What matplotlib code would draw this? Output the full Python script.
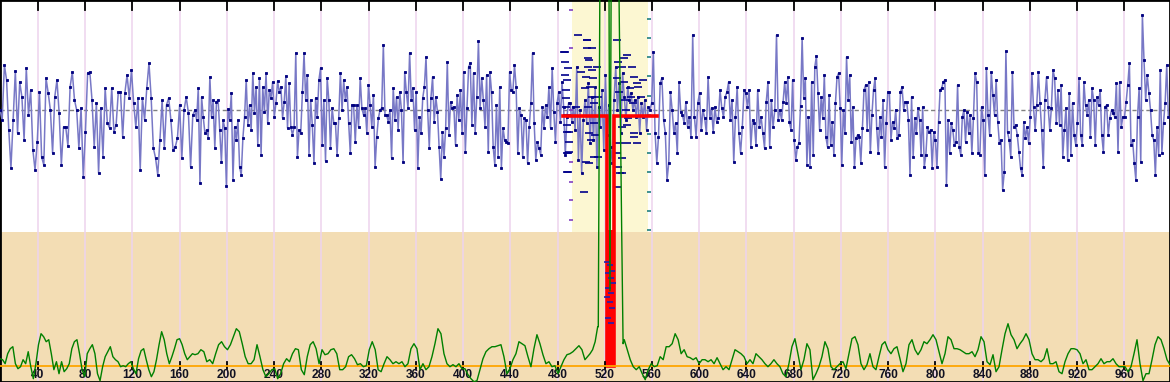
import numpy as np
import matplotlib.pyplot as plt
from matplotlib.transforms import blended_transform_factory

# x range of each strip the series were read from
seg_edges = [7.9, 173.0, 338.1, 503.2, 668.3, 833.5, 998.6]

# blue signal, offset from its mean line (one list per strip)
blue_1 = [0,-10,45,30,-20,-58,-10,39,-23,28,13,-30,42,-5,20,-40,-60,-32,18,-47,-55,32,17,0,-43,13,30,-3,-55,-17,
          -17,-36,23,38,10,0,-38,2,-67,-22,37,38,10,-37,7,-63,2,-47,22,-13,-18,22,-22,-15,18,18,-27,17,35,12,
          40,7,-17,12,-60,12,-10,22,47,12,-38,-48,-65,-30,10,-38,5,12,-10,-40,-37,-28,5,-48,0,13,-3,-57,-5]
blue_2 = [0,-10,22,-73,13,-7,-23,-20,-28,33,-7,10,-38,8,10,-20,-52,-10,-18,-76,1,-10,17,-70,-17,-30,-10,-57,-65,-28,
          -7,30,-15,5,-20,37,-3,23,-35,32,-45,23,-2,37,-13,20,12,28,-7,7,29,18,23,-8,8,34,-18,27,-17,-25,
          -17,57,-47,-20,-23,18,57,10,35,-45,10,-15,-53,12,-7,30,42,-35,10,-51,32,10,-38,2,-13,-13,-45,-8,37,0,
          30,10,23,-13,-43,5,5,-32,5,-17,32,2,-5,2,-23,25,5,-17,15,-57,-27,-8,0,2,65,-5,-5,-12]
blue_3 = [0,-48,22,-10,13,-20,18,0,-52,38,18,2,57,10,22,-20,18,-58,-7,-23,12,23,53,0,-38,12,33,-12,13,-2,
          -37,-69,-22,-47,-18,48,-25,8,2,3,-35,15,-10,20,-23,38,-42,2,43,47,-15,37,-23,13,69,2,32,10,-17,35,
          -42,38,18,-37,-55,5,-47,23,-58,-18,-30,-32,-33,38,20,18,45,23,-43,2,-5,-47,-8,-10,-53,-17,7,57,-13,-50,
          -32,-38,-45,3,-18,5,-7,23,-18,42,-2,-32,7,18,-12,28,3,-45,-7,7,7,-12,3,-20,43,-50,0,-63,-10]
blue_4 = [10,-13,27,-33,13,-30,23,-57,3,-17,20,-40,35,-25,5,-37,-53,10,43,0,27,-23,37,13,-10,23,10,17,0,10,
          -7,13,-23,7,-7,10,-20,3,0,7,58,-23,-53,-27,27,32,-10,-23,-70,-53,18,0,-23,-13,-43,28,-2,-5,-13,8,
          -17,-7,-27,75,-7,-27,7,17,-20,0,-8,-23,33,-8,2,-22,3,-12,-8,20,2,-7,13,18,28,-10,10,-52,-7,23,
          -23,-43,-17,20,17,3,20,-37,-10,-13,-35,20,-17,-7,-23,-38,8,28,-37,10,-17,0,75,-10]
blue_5 = [0,-10,8,28,7,33,-12,-20,30,-30,-50,-37,-33,4,72,12,32,-55,-7,-57,28,-45,43,54,17,-20,13,-8,35,-27,
          -37,15,-35,-12,-45,7,33,37,2,-55,0,-23,53,10,35,-32,3,-57,-28,-25,-27,-53,-18,20,25,-20,28,-42,-5,20,
          32,-18,-43,-7,-27,10,-57,-13,18,18,-30,-12,-18,0,-28,-25,18,23,0,8,8,-10,-65,13,-47,-8,-23,2,-10,-45,
          3,-57,-45,-17,-22,-20,-58,-22,-30,-57,-12,20,22,28,30,-75,-10,-43,-13,-20,-35,-32,25,-37,-45,-7,0,-32,
          -2,-23,-5,-43,-8]
blue_6 = [37,28,-43,-45,3,-10,-65,42,-5,-25,38,15,-5,30,-12,-33,-30,-80,-62,59,-22,-30,-47,38,-17,-15,-25,-42,-58,-65,
          -12,-28,-17,-33,-7,37,3,-20,5,38,7,-20,-57,10,33,3,-20,2,40,32,-13,20,-15,25,-47,-20,2,-50,17,-45,
          7,-25,-35,-13,32,-25,-35,28,5,-5,10,-27,22,10,-35,13,5,20,-25,-42,3,5,-25,-8,0,-3,-7,27,-42,28,
          -17,-7,-7,8,25,47,-35,-30,-53,-70,-7,22,-52,95,50,10,35,17,0,-25,-30,-65,-17,-45,40,-43,-13,7,45,-7]

# green curve, height above the orange base line
green_1 = [7,6,2,12,17,19,2,-3,-1,6,2,14,-1,-13,2,21,32,29,24,26,12,-4,4,-8,4,-6,-3,2,17,24,
           26,12,-4,-11,12,17,21,12,-8,-15,-1,9,14,19,9,6,4,-1,0,-1,2,4,-3,-8,7,15,17,6,-4,-11,
           -6,6,21,34,26,12,2,9,17,26,27,21,12,6,9,12]
green_2 = [11,12,16,14,4,6,2,12,21,24,19,16,21,29,37,34,22,9,2,2,6,21,9,-4,-11,-8,-4,-3,-13,-8,
           2,7,4,12,17,16,-4,-9,9,21,24,17,2,16,11,12,16,17,12,-4,-4,-1,9,11,7,1,2,-1,0,16,
           24,16,-4,-6,2,9]
green_3 = [6,2,4,2,4,-1,2,17,22,17,-4,2,-4,-1,9,22,37,32,12,2,-1,1,-1,2,-3,-3,-9,-13,-16,-15,
           -4,7,14,17,19,19,20,21,9,-8,-3,6,12,24,22,20,9,-1,17,31,22,11,2,4,-1,0,-8,-1,6,11,
           12,14,17,20,16]
green_4a = [6,9,12,16,24,39]
spike_x = [514.5,516,518,521,523.5,524.4,525.5,528,531,534.3,535.5]
spike_v = [39,420,480,480,400,75,420,480,480,136,22]
green_4b = [26,16,6,-1,-4,-1,-8,-14,-4,2,-1,0,9,6,19,19,22,32,26,12,16,9,8,6,8,2,6,6,4,6,
            2,8,2,-4,-1,-4,6,16,14,12,9,2,6,2,12,9,6,2,-1,2,6,2]
green_5 = [-1,-8,-11,2,19,27,12,-4,6,22,16,-14,-8,-1,9,24,17,-1,-4,-1,2,4,-3,12,27,29,21,2,-4,1,
           12,-1,-4,9,21,24,16,12,17,19,7,-6,2,21,26,16,11,16,24,22,26,31,26,14,2,12,29,26,17,17,
           16,14,12,12,14]
green_6 = [9,16,29,24,4,1,11,-6,-1,16,32,42,31,26,17,22,26,32,26,12,6,6,4,7,17,2,2,4,-6,-8,
           4,12,17,17,16,12,2,6,-4,-4,-1,2,7,2,4,4,7,2,-1,-1,-1,-6,-1,12,26,2,-15,-8,-8,6,
           21,29,26,17,6,1]

# scattered error dashes inside the highlighted window
dash_x = [485.4,486,486.2,486.8,487,487.5,488,487.6,488.3,487.8,489,489.5,488.6,490,497.3,486,509,505,513,500,
          488,503,514,496,490,507,489,514,502,488,504.6,505,506,505.5,504.2,507,509,510,507.5,509,
          506,511,510.5,512,508,504.4,507,511,530,531,530.5,532,535,539,536,541,537,542,
          538,544,538.5,545,540,535,532,539,530,531,535,530.5,536,545,547,543,552,548,551,545,547,533,535]
dash_y = [58,48,35,20,12,3,-5,-15,-22,-43,-62,-32,42,-42,75,58,62,70,43,38,
          30,22,13,3,-22,-23,-43,-47,-82,-62,70,62,52,43,33,50,40,32,23,13,
          3,7,-13,-25,-30,-52,-53,-47,70,48,32,18,43,55,28,22,10,13,
          0,7,-15,-23,-8,-17,-33,-33,-43,-57,-63,-77,52,33,27,43,30,23,13,-27,-33,-63,-48]
# dashes stacked over the red bar
stack_x = [522,524,526,522.5,525,527,523,525.5,522,524.5,526.5,523,525]
stack_y = [-152,-155,-161,-163,-168,-173,-178,-183,-187,-192,-198,-208,-213]
# scale marks on both edges of the window
left_marks = [100,62,0,-52,-72,-90,-110]
right_marks = [91,72,53,34,14,-5,-24,-43,-62,-82,-101,-120]

# red step curve
red_x = [485,521.8,521.8,527.8,527.8,564]
red_y = [-6,-6,-256,-256,-6,-6]

ticks = list(range(40, 961, 40))

fig = plt.figure(figsize=(11.7, 3.82), dpi=100)
ax = fig.add_axes([0, 0, 1, 1])
ax.set_xlim(seg_edges[0], seg_edges[-1])
ax.set_ylim(-272, 110)
ax.set_xticks([])
ax.set_yticks([])
for s in ax.spines.values():
    s.set_color('black')
    s.set_linewidth(2)

# backgrounds
ax.axhspan(-272, -122, color='#F3DDB4', zorder=0, lw=0)
ax.axvspan(492.2, 556.6, ymin=150/382, ymax=1, color='#FCF7D2', zorder=0, lw=0)

trans = blended_transform_factory(ax.transData, ax.transAxes)
for t in ticks:
    ax.axvline(t, color='#EDD3EE', lw=1.1, zorder=1)
    ax.plot([t, t], [1 - 10/382, 1], color='black', lw=1.3, transform=trans, zorder=6, clip_on=False)
    ax.plot([t, t], [13/382, 20/382], color='black', lw=1.3, transform=trans, zorder=6)
    ax.text(t, 7/382, str(t), transform=trans, ha='center', va='center', fontweight='bold',
            fontsize=8.6, family='Liberation Sans', color='#111122', zorder=7)

ax.axhline(0, color='#808080', lw=1, ls=(0, (3, 2)), zorder=2)

blue_segs = [blue_1, blue_2, blue_3, blue_4, blue_5, blue_6]
blue_x = np.concatenate([np.linspace(seg_edges[i], seg_edges[i+1], len(s), endpoint=False)
                         for i, s in enumerate(blue_segs)])
blue_y = np.concatenate(blue_segs)
ax.plot(blue_x, blue_y, color='#7878C6', lw=1.1, zorder=3)
ax.plot(blue_x, blue_y, ls='none', marker='s', ms=1.5, mew=0.6, color='#00007F', zorder=4)

ax.plot(dash_x, dash_y, ls='none', marker='_', ms=6, mew=1.2, color='#00008B', zorder=4)
ax.plot(stack_x, stack_y, ls='none', marker='_', ms=5, mew=1.2, color='#2020B0', zorder=6)
ax.plot([491.5]*len(left_marks), left_marks, ls='none', marker='_', ms=3, mew=1.2, color='#8040C0', zorder=4)
ax.plot([557.2]*len(right_marks), right_marks, ls='none', marker='_', ms=3, mew=1.2, color='#208080', zorder=4)

ax.plot(red_x, red_y, color='red', lw=2.6, zorder=5, solid_joinstyle='miter')
ax.fill_between([521, 528.6], -256, -120, color='red', lw=0, zorder=5)

# green curve on its own scale
axg = ax.twinx()
axg.set_ylim(-16.3, 365.7)
axg.set_yticks([])
axg.axis('off')
axg.axhline(0, color='#FFA500', lw=1.3, zorder=1)
green_x = np.concatenate([
    np.linspace(seg_edges[0], seg_edges[1], len(green_1), endpoint=False),
    np.linspace(seg_edges[1], seg_edges[2], len(green_2), endpoint=False),
    np.linspace(seg_edges[2], seg_edges[3], len(green_3), endpoint=False),
    np.linspace(seg_edges[3], 514, len(green_4a)),
    spike_x,
    np.linspace(536.5, seg_edges[4], len(green_4b), endpoint=False),
    np.linspace(seg_edges[4], seg_edges[5], len(green_5), endpoint=False),
    np.linspace(seg_edges[5], seg_edges[6], len(green_6)),
])
green_y = np.concatenate([green_1, green_2, green_3, green_4a, spike_v, green_4b, green_5, green_6])
axg.plot(green_x, green_y, color='#008000', lw=1.0, zorder=2)

fig.savefig('out.png', dpi=100)
